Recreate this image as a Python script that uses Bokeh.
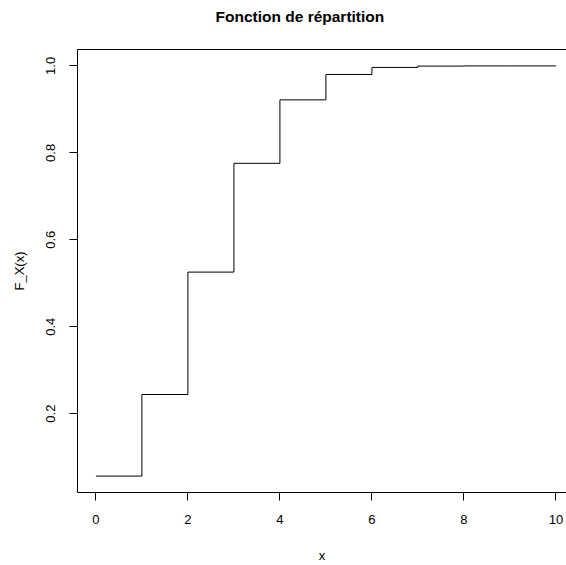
from bokeh.plotting import figure
from bokeh.models import Range1d, LinearAxis, FixedTicker, Title, NumeralTickFormatter
from bokeh.embed import file_html
from bokeh.resources import INLINE

# Cumulative distribution function values at x = 0..10
x_vals = [0, 1, 2, 3, 4, 5, 6, 7, 8, 9, 10]
cdf_vals = [0.0563, 0.2440, 0.5256, 0.7759, 0.9219, 0.9803, 0.9965, 0.9996, 1.0000, 1.0000, 1.0000]

x_ticks = [0, 2, 4, 6, 8, 10]
y_ticks = [0.2, 0.4, 0.6, 0.8, 1.0]

FONT = "Liberation Sans"

p = figure(
    width=566, height=565,
    output_backend="svg", toolbar_location=None,
    x_range=Range1d(-0.4, 10.23), y_range=Range1d(0.01855, 1.03775),
    min_border_left=77, min_border_right=0, min_border_top=49, min_border_bottom=70,
    x_axis_label="x", y_axis_label="F_X(x)",
)
p.title = None
p.outline_line_color = None
p.xgrid.visible = False
p.ygrid.visible = False
p.background_fill_color = "white"
p.border_fill_color = "white"

# step plot: value holds until the next integer
p.step(x_vals, cdf_vals, mode="after", line_color="black", line_width=1)

for ax in (p.xaxis[0], p.yaxis[0]):
    ax.major_tick_out = 8
    ax.major_tick_in = 0
    ax.minor_tick_out = 0
    ax.minor_tick_in = 0
    ax.axis_line_color = "black"
    ax.major_tick_line_color = "black"
    ax.major_label_text_font = FONT
    ax.major_label_text_font_size = "13px"
    ax.major_label_text_color = "black"
    ax.axis_label_text_font = FONT
    ax.axis_label_text_font_size = "13px"
    ax.axis_label_text_font_style = "normal"
    ax.axis_label_text_color = "black"

p.xaxis[0].ticker = FixedTicker(ticks=x_ticks)
p.xaxis[0].major_label_standoff = 14
p.xaxis[0].axis_label_standoff = 21

p.yaxis[0].ticker = FixedTicker(ticks=y_ticks)
p.yaxis[0].formatter = NumeralTickFormatter(format="0.0")
p.yaxis[0].major_label_orientation = "vertical"
p.yaxis[0].major_label_standoff = 14
p.yaxis[0].axis_label_standoff = 17

# top edge of the plot box; its blank label keeps the title clear of the frame
top = LinearAxis(ticker=FixedTicker(ticks=[]), major_tick_out=0, major_tick_in=0,
                 minor_tick_out=0, minor_tick_in=0, major_label_text_font_size="0px",
                 axis_line_color="black", axis_label=" ", axis_label_standoff=2,
                 axis_label_text_font_size="13px")
p.add_layout(top, "above")

title = Title(text="Fonction de répartition", align="left", offset=138,
              text_font=FONT, text_font_size="15.5px", text_font_style="bold",
              text_color="black", standoff=10)
p.add_layout(title, "above")

open("out.html", "w").write(file_html(p, INLINE))
